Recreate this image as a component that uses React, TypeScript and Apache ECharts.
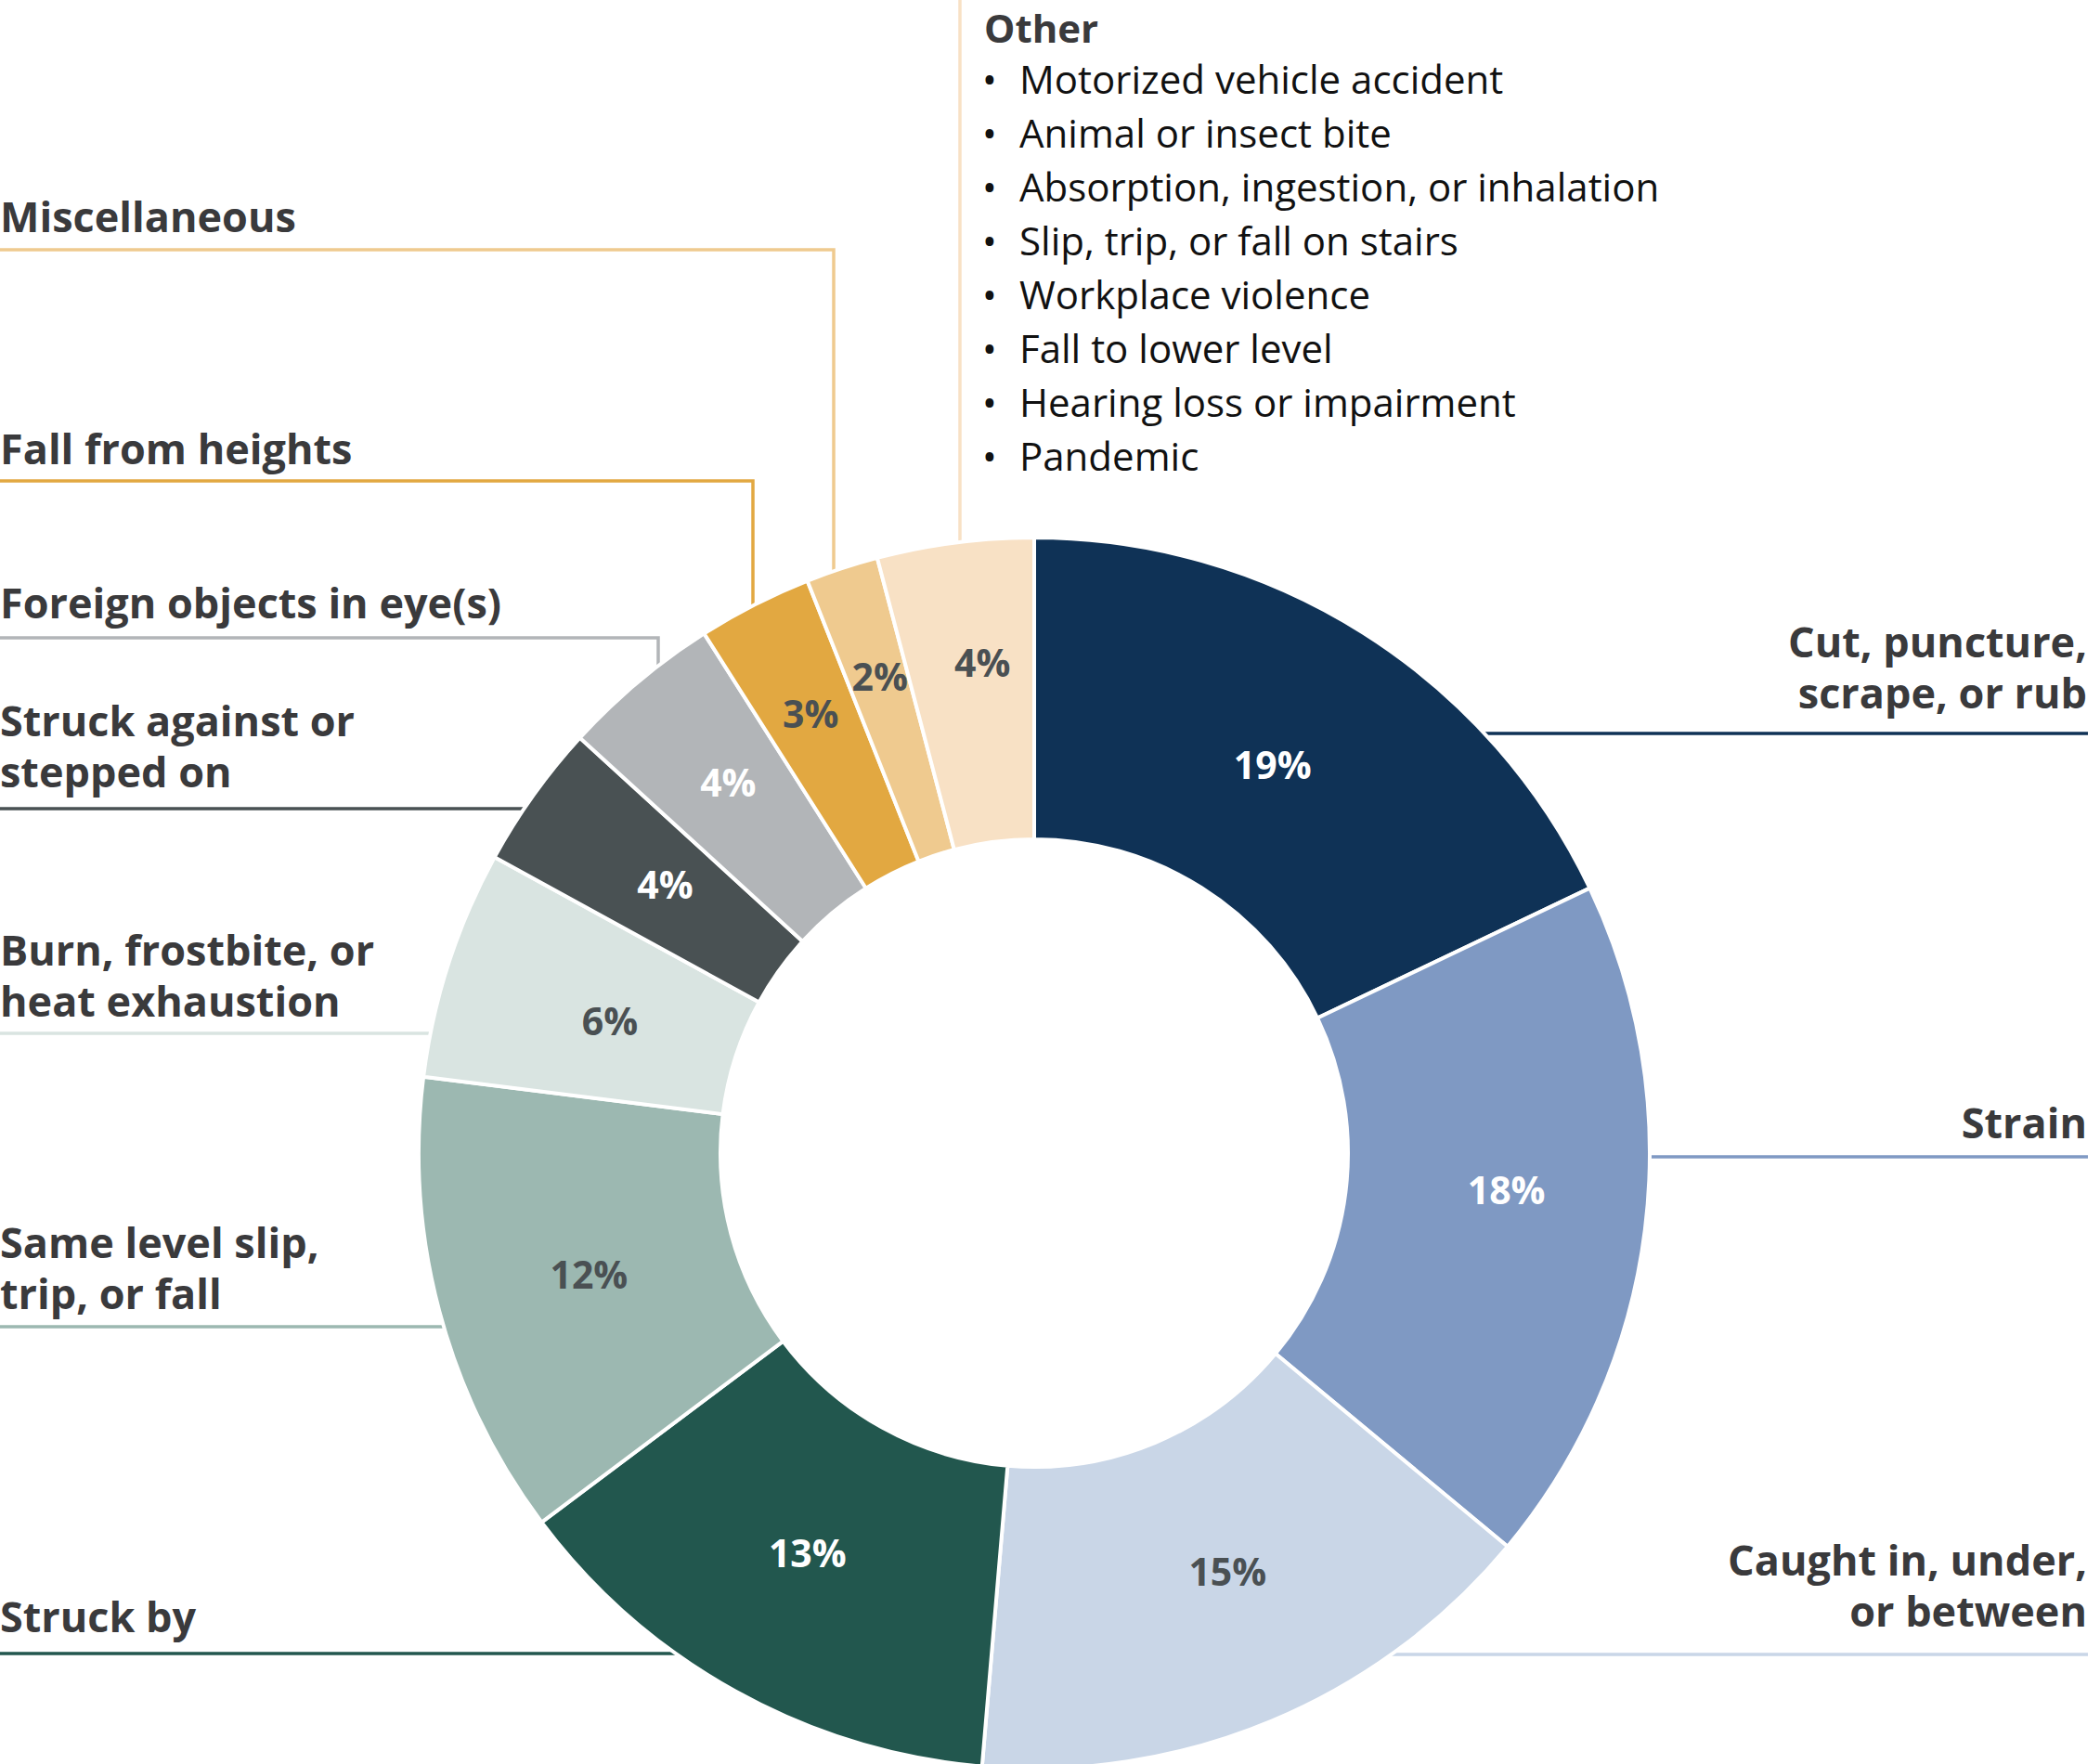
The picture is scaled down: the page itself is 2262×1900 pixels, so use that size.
import { useEffect, useRef } from 'react';
import * as echarts from 'echarts';

// slices, clockwise from 12 o'clock
const categories = [
    'Cut, puncture,\nscrape, or rub',
    'Strain',
    'Caught in, under,\nor between',
    'Struck by',
    'Same level slip,\ntrip, or fall',
    'Burn, frostbite, or\nheat exhaustion',
    'Struck against or\nstepped on',
    'Foreign objects in eye(s)',
    'Fall from heights',
    'Miscellaneous',
    'Other'
];

const shares = [17.9, 18.1, 15.3, 13.4, 12.2, 6.0, 3.8, 4.2, 3.0, 1.9, 4.1];

// printed labels
const percentLabels = ['19%', '18%', '15%', '13%', '12%', '6%', '4%', '4%', '3%', '2%', '4%'];

const otherItems = [
    'Motorized vehicle accident',
    'Animal or insect bite',
    'Absorption, ingestion, or inhalation',
    'Slip, trip, or fall on stairs',
    'Workplace violence',
    'Fall to lower level',
    'Hearing loss or impairment',
    'Pandemic'
];

const sliceColors = [
    '#0F3256', '#7F99C3', '#C9D6E7', '#22574E', '#9CB8B1', '#D9E4E1',
    '#495153', '#B2B5B8', '#E2A841', '#EFCA8F', '#F8E1C5'
];
const percentColors = [
    '#FFFFFF', '#FFFFFF', '#4A5053', '#FFFFFF', '#4A5053', '#4A5053',
    '#FFFFFF', '#FFFFFF', '#4A5053', '#4A5053', '#4A5053'
];

// small nudges of the in-ring percentages, px
const percentNudge = [
    [-12, 7], [9, -23], [14, -14], [0, -10], [7, 1], [22, 12],
    [12, 3], [-6, -14], [-12, -25], [-9, -36], [9, -30]
];

const TEXT = '#3A3A3C';
const FONT = 'Open Sans';
const CX = 1114;
const CY = 1242;
const R = 661;
const LINE_H = 55;
const RIGHT_X = 2249;

type Leader = { side: 'left' | 'right' | 'top'; lineY?: number; lineX?: number; elbowX?: number; baseline: number };

// where each leader line and its label sit
const leaders: Leader[] = [
    { side: 'right', lineY: 790, baseline: 708 },
    { side: 'right', lineY: 1246, baseline: 1226 },
    { side: 'right', lineY: 1782, baseline: 1697 },
    { side: 'left', lineY: 1781, baseline: 1758 },
    { side: 'left', lineY: 1429, baseline: 1355 },
    { side: 'left', lineY: 1113, baseline: 1040 },
    { side: 'left', lineY: 871, baseline: 793 },
    { side: 'left', lineY: 687, elbowX: 709, baseline: 666 },
    { side: 'left', lineY: 518, elbowX: 811, baseline: 500 },
    { side: 'left', lineY: 269, elbowX: 898, baseline: 250 },
    { side: 'top', lineX: 1034, baseline: 46 }
];

const halfChordX = (y: number) => Math.sqrt(R * R - (y - CY) * (y - CY));
const halfChordY = (x: number) => Math.sqrt(R * R - (x - CX) * (x - CX));

function buildGraphics() {
    const els: any[] = [];
    leaders.forEach((l, i) => {
        let points: number[][];
        if (l.side === 'right') {
            points = [[CX + halfChordX(l.lineY!), l.lineY!], [RIGHT_X, l.lineY!]];
        } else if (l.side === 'top') {
            points = [[l.lineX!, 0], [l.lineX!, CY - halfChordY(l.lineX!)]];
        } else if (l.elbowX !== undefined) {
            points = [[0, l.lineY!], [l.elbowX, l.lineY!], [l.elbowX, CY - halfChordY(l.elbowX)]];
        } else {
            points = [[0, l.lineY!], [CX - halfChordX(l.lineY!), l.lineY!]];
        }
        els.push({
            type: 'polyline',
            z: 1,
            silent: true,
            shape: { points },
            style: { stroke: sliceColors[i], lineWidth: 3.5, fill: null }
        });

        const lines = categories[i].split('\n').length;
        const isTop = l.side === 'top';
        const size = isTop ? 42 : 45;
        els.push({
            type: 'text',
            z: 3,
            silent: true,
            x: l.side === 'right' ? 2248 : isTop ? 1060 : 0,
            y: l.baseline - 0.388 * size + ((lines - 1) * LINE_H) / 2,
            style: {
                text: categories[i],
                fill: TEXT,
                fontFamily: FONT,
                fontWeight: 'bold',
                fontSize: size,
                lineHeight: isTop ? 40 : LINE_H,
                textAlign: l.side === 'right' ? 'right' : 'left',
                textVerticalAlign: 'middle'
            }
        });
    });

    otherItems.forEach((item, i) => {
        const baseline = 101 + i * 58;
        const y = baseline - 0.388 * 42;
        els.push({
            type: 'text',
            z: 3,
            silent: true,
            x: 1066,
            y,
            style: { text: '•', fill: '#111111', fontFamily: FONT, fontSize: 42, textAlign: 'center', textVerticalAlign: 'middle' }
        });
        els.push({
            type: 'text',
            z: 3,
            silent: true,
            x: 1098,
            y,
            style: { text: item, fill: '#111111', fontFamily: FONT, fontSize: 42, textAlign: 'left', textVerticalAlign: 'middle' }
        });
    });
    return els;
}

const App = () => {
    const chartRef = useRef<HTMLDivElement>(null);

    useEffect(() => {
        if (!chartRef.current) return;
        const chart = echarts.init(chartRef.current, undefined, { renderer: 'svg' });

        chart.setOption({
            animation: false,
            backgroundColor: '#FFFFFF',
            graphic: { elements: buildGraphics() },
            series: [
                {
                    type: 'pie',
                    center: [CX, CY],
                    radius: [R - 323, R + 2],
                    startAngle: 90,
                    clockwise: true,
                    avoidLabelOverlap: false,
                    silent: true,
                    itemStyle: { borderColor: '#FFFFFF', borderWidth: 4 },
                    label: {
                        show: true,
                        position: 'inside',
                        formatter: (p: any) => percentLabels[p.dataIndex],
                        fontFamily: FONT,
                        fontWeight: 'bold',
                        fontSize: 41
                    },
                    labelLine: { show: false },
                    labelLayout: (p: any) => ({
                        dx: percentNudge[p.dataIndex][0],
                        dy: percentNudge[p.dataIndex][1]
                    }),
                    data: categories.map((name, i) => ({
                        name,
                        value: shares[i],
                        itemStyle: { color: sliceColors[i] },
                        label: { color: percentColors[i] }
                    }))
                }
            ]
        });

        return () => {
            chart.dispose();
        };
    }, []);

    return (
        <div
            ref={chartRef}
            style={{ position: 'absolute', left: 0, top: 0, width: '2262px', height: '1900px' }}
        />
    );
};

export default App;
